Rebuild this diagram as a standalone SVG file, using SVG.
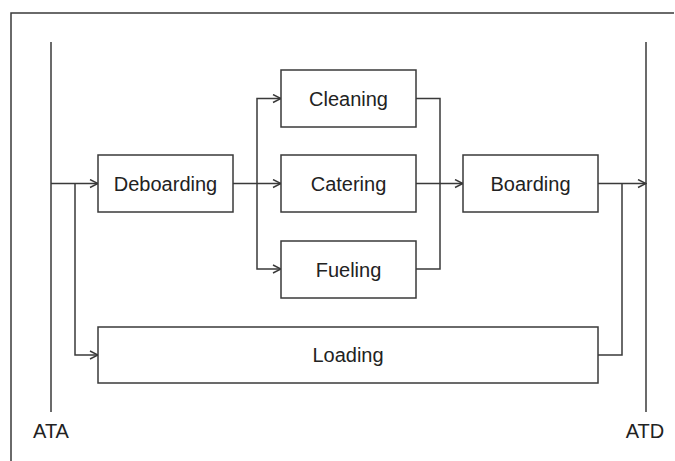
<svg xmlns="http://www.w3.org/2000/svg" width="675" height="461" viewBox="0 0 675 461">
<style>
.box{fill:#fff;stroke:#3a3a3a;stroke-width:1.5}
.ln{fill:none;stroke:#3a3a3a;stroke-width:1.5}
.t{font-family:"Liberation Sans",Arial,sans-serif;font-size:20px;fill:#222;text-anchor:middle}
</style>
<defs>
<marker id="arr" viewBox="0 0 10 10" refX="9" refY="5" markerWidth="10" markerHeight="10" markerUnits="userSpaceOnUse" orient="auto">
<path d="M1,1 L9,5 L1,9" fill="none" stroke="#3a3a3a" stroke-width="1.4"/>
</marker>
</defs>
<rect width="675" height="461" fill="#fff"/>
<path class="ln" d="M11,461 V13 H674"/>
<g id="ATA"><line class="ln" x1="51" y1="42" x2="51" y2="412"/><text class="t" x="51" y="438">ATA</text></g>
<g id="ATD"><line class="ln" x1="646" y1="42" x2="646" y2="412"/><text class="t" x="645" y="438">ATD</text></g>
<g id="connectors">
<path class="ln" d="M51,183.5 H98" marker-end="url(#arr)"/>
<path class="ln" d="M75,183.5 V355 H98" marker-end="url(#arr)"/>
<path class="ln" d="M233,183.5 H281" marker-end="url(#arr)"/>
<path class="ln" d="M257,183.5 V98.5 H281" marker-end="url(#arr)"/>
<path class="ln" d="M257,183.5 V269 H281" marker-end="url(#arr)"/>
<path class="ln" d="M416,98.5 H440 V269 H416"/>
<path class="ln" d="M416,183.5 H463" marker-end="url(#arr)"/>
<path class="ln" d="M598,183.5 H646" marker-end="url(#arr)"/>
<path class="ln" d="M598,355 H622 V183.5"/>
</g>
<g id="deboarding"><rect class="box" x="98" y="155" width="135" height="57"/><text class="t" x="165.5" y="191">Deboarding</text></g>
<g id="cleaning"><rect class="box" x="281" y="70" width="135" height="57"/><text class="t" x="348.5" y="106">Cleaning</text></g>
<g id="catering"><rect class="box" x="281" y="155" width="135" height="57"/><text class="t" x="348.5" y="191">Catering</text></g>
<g id="fueling"><rect class="box" x="281" y="241" width="135" height="57"/><text class="t" x="348.5" y="277">Fueling</text></g>
<g id="boarding"><rect class="box" x="463" y="155" width="135" height="57"/><text class="t" x="530.5" y="191">Boarding</text></g>
<g id="loading"><rect class="box" x="98" y="327" width="500" height="56"/><text class="t" x="348" y="362">Loading</text></g>
</svg>
